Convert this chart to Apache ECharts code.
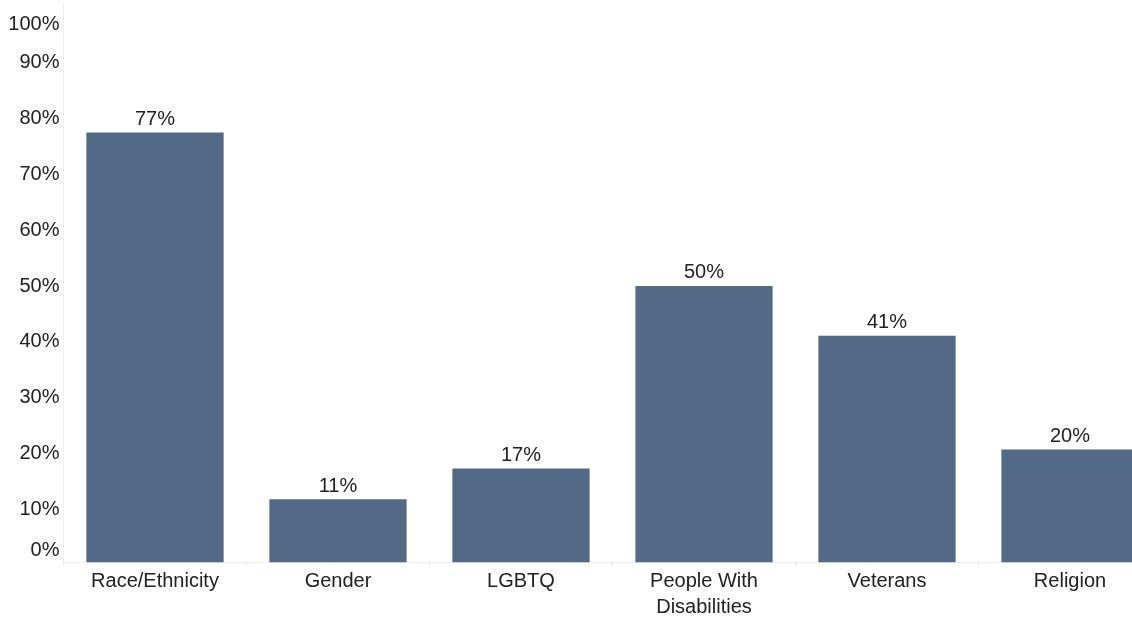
<!DOCTYPE html>
<html>
<head>
<meta charset="utf-8">
<script src="https://cdn.jsdelivr.net/npm/echarts@6/dist/echarts.min.js"></script>
<style>
html,body{margin:0;padding:0;background:#fff;overflow:hidden;}
#chart{width:1132px;height:618px;}
</style>
</head>
<body>
<div id="chart"></div>
<script>
var categories = ['Race/Ethnicity', 'Gender', 'LGBTQ', 'People With\nDisabilities', 'Veterans', 'Religion'];
var values = [77, 11.3, 16.8, 49.5, 40.6, 20.2];
var yTicks = [0, 10, 20, 30, 40, 50, 60, 70, 80, 90, 100];

var chart = echarts.init(document.getElementById('chart'), null, {renderer: 'canvas'});
var font = 'Liberation Sans, Arial, sans-serif';
chart.setOption({
  animation: false,
  grid: {left: 63.5, width: 1098, top: 4, height: 558.3, containLabel: false, outerBoundsMode: 'none'},
  xAxis: {
    type: 'category',
    data: categories,
    axisLine: {show: true, lineStyle: {color: '#eeeeee', width: 1}},
    axisTick: {show: true, length: 3, lineStyle: {color: '#e6e6e6'}},
    axisLabel: {
      color: '#222222', fontFamily: font, fontSize: 20, margin: 6, lineHeight: 26,
      interval: 0
    }
  },
  yAxis: {
    type: 'value',
    min: yTicks[0], max: yTicks[yTicks.length - 1], interval: 10,
    splitLine: {show: false},
    axisLine: {show: true, lineStyle: {color: '#f0f0f0', width: 1}},
    axisTick: {show: false},
    axisLabel: {
      color: '#222222', fontFamily: font, fontSize: 20, margin: 4,
      formatter: function (v) {
        if (v === 100) return '{t|' + v + '%}';
        if (v === 0) return '{b|' + v + '%}';
        return '{n|' + v + '%}';
      },
      rich: {
        t: {color: '#222222', fontFamily: font, fontSize: 20, padding: [40, 0, 0, 0]},
        b: {color: '#222222', fontFamily: font, fontSize: 20, padding: [0, 0, 23, 0]},
        n: {color: '#222222', fontFamily: font, fontSize: 20, padding: [6, 0, 0, 0]}
      }
    }
  },
  series: [{
    type: 'bar',
    data: values,
    barWidth: '75%',
    itemStyle: {color: '#536a86'},
    label: {
      show: true, position: 'top', distance: 3,
      color: '#222222', fontFamily: font, fontSize: 20,
      formatter: function (p) { return Math.round(p.value) + '%'; }
    }
  }]
});
</script>
</body>
</html>
